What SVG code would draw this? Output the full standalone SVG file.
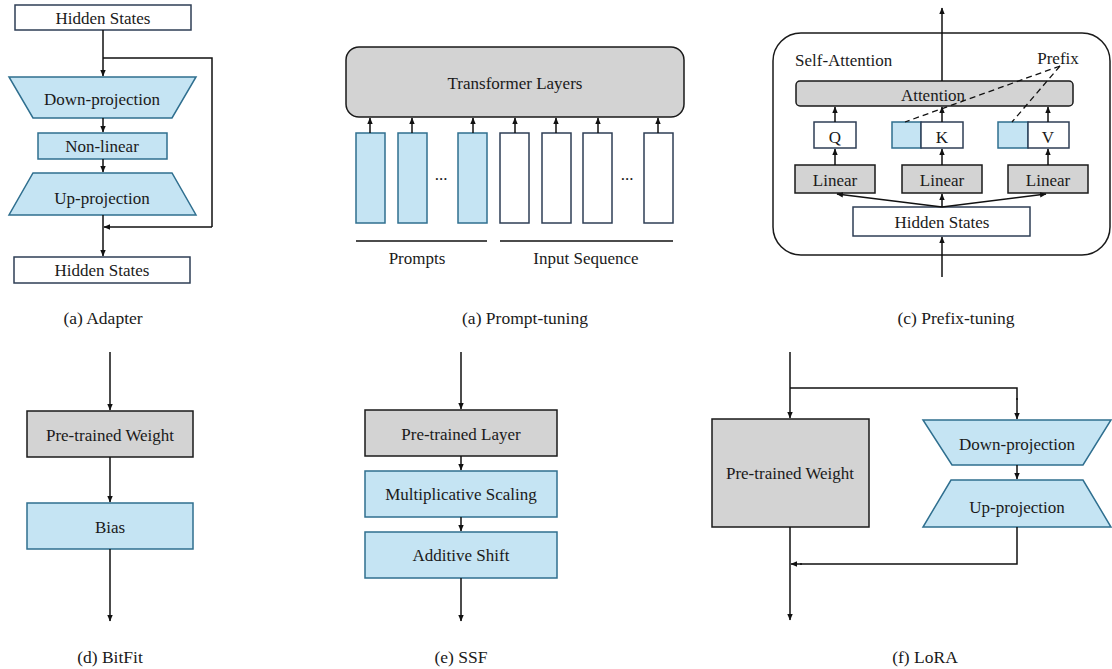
<svg xmlns="http://www.w3.org/2000/svg" width="1112" height="669" viewBox="0 0 1112 669">
<defs>
<marker id="ah" markerUnits="userSpaceOnUse" markerWidth="7" markerHeight="7" refX="6" refY="3.5" orient="auto">
<path d="M0,0.8 L6.5,3.5 L0,6.2 Z" fill="#111"/>
</marker>
<style>
text{font-family:"Liberation Serif","Times New Roman",serif;font-size:17px;fill:#1a1a1a;text-anchor:middle}
.cap{font-size:17.5px}
.lt{text-anchor:start}
.blue{fill:#c5e4f3;stroke:#2f6f8f;stroke-width:1.5}
.gray{fill:#d3d3d3;stroke:#1a1a1a;stroke-width:1.5}
.white{fill:#fff;stroke:#2e3e55;stroke-width:1.5}
.ln{fill:none;stroke:#111;stroke-width:1.5}
.arr{fill:none;stroke:#111;stroke-width:1.5;marker-end:url(#ah)}
.dash{fill:none;stroke:#111;stroke-width:1.3;stroke-dasharray:6 4}
</style>
</defs>
<rect width="1112" height="669" fill="#fff"/>

<!-- (a) Adapter -->
<g id="adapter">
<g id="a-hs-top"><rect class="white" x="15" y="5" width="176" height="25"/><text x="103" y="24">Hidden States</text></g>
<g id="a-down"><polygon class="blue" points="9,77 196,77 172,118 33,118"/><text x="102" y="105">Down-projection</text></g>
<g id="a-nonlin"><rect class="blue" x="38" y="133" width="129" height="26"/><text x="102" y="152">Non-linear</text></g>
<g id="a-up"><polygon class="blue" points="33,173 172,173 196,215 9,215"/><text x="102" y="204">Up-projection</text></g>
<g id="a-hs-bot"><rect class="white" x="14" y="257" width="176" height="26"/><text x="102" y="276">Hidden States</text></g>
<text class="cap" x="103" y="324">(a) Adapter</text>
</g>

<!-- (b) Prompt-tuning -->
<g id="prompt">
<g id="p-trans"><rect class="gray" x="346" y="47" width="338" height="70" rx="13"/><text x="515" y="89">Transformer Layers</text></g>
<g id="p-tokens">
<rect class="blue" x="356" y="133" width="29" height="90"/>
<rect class="blue" x="398" y="133" width="29" height="90"/>
<rect class="blue" x="458" y="133" width="29" height="90"/>
<rect class="white" x="500" y="133" width="29" height="90"/>
<rect class="white" x="542" y="133" width="29" height="90"/>
<rect class="white" x="583" y="133" width="29" height="90"/>
<rect class="white" x="644" y="133" width="29" height="90"/>
<text x="441" y="180">...</text>
<text x="627" y="180">...</text>
</g>
<line class="ln" x1="356" y1="241" x2="487" y2="241"/>
<line class="ln" x1="500" y1="241" x2="673" y2="241"/>
<text x="417" y="264">Prompts</text>
<text x="586" y="264">Input Sequence</text>
<text class="cap" x="525" y="324">(a) Prompt-tuning</text>
</g>

<!-- (c) Prefix-tuning -->
<g id="prefix">
<rect x="773" y="33" width="337" height="222" rx="28" fill="#fff" stroke="#1a1a1a" stroke-width="1.5"/>
<text class="lt" x="795" y="66">Self-Attention</text>
<text x="1058" y="64">Prefix</text>
<g id="c-att"><rect class="gray" x="796" y="81" width="277" height="25" rx="4"/><text x="933" y="101">Attention</text></g>
<g id="c-q"><rect class="white" x="814" y="122" width="42" height="26"/><text x="835" y="143">Q</text></g>
<g id="c-k"><rect class="blue" x="892" y="122" width="29" height="26"/><rect class="white" x="921" y="122" width="42" height="26"/><text x="942" y="143">K</text></g>
<g id="c-v"><rect class="blue" x="998" y="122" width="30" height="26"/><rect class="white" x="1028" y="122" width="41" height="26"/><text x="1048" y="143">V</text></g>
<g id="c-lin1"><rect class="gray" x="795" y="165" width="80" height="28"/><text x="835" y="186">Linear</text></g>
<g id="c-lin2"><rect class="gray" x="902" y="165" width="80" height="28"/><text x="942" y="186">Linear</text></g>
<g id="c-lin3"><rect class="gray" x="1008" y="165" width="80" height="28"/><text x="1048" y="186">Linear</text></g>
<g id="c-hs"><rect class="white" x="853" y="207" width="177" height="29"/><text x="942" y="228">Hidden States</text></g>
<text class="cap" x="956" y="324">(c) Prefix-tuning</text>
</g>

<!-- (d) BitFit -->
<g id="bitfit">
<g id="d-pw"><rect class="gray" x="27" y="411" width="166" height="46"/><text x="110" y="441">Pre-trained Weight</text></g>
<g id="d-bias"><rect class="blue" x="27" y="503" width="166" height="46"/><text x="110" y="533">Bias</text></g>
<text class="cap" x="110" y="663">(d) BitFit</text>
</g>

<!-- (e) SSF -->
<g id="ssf">
<g id="e-pl"><rect class="gray" x="365" y="410" width="192" height="46"/><text x="461" y="440">Pre-trained Layer</text></g>
<g id="e-ms"><rect class="blue" x="365" y="471" width="192" height="46"/><text x="461" y="500">Multiplicative Scaling</text></g>
<g id="e-as"><rect class="blue" x="365" y="532" width="192" height="46"/><text x="461" y="561">Additive Shift</text></g>
<text class="cap" x="461" y="663">(e) SSF</text>
</g>

<!-- (f) LoRA -->
<g id="lora">
<g id="f-pw"><rect class="gray" x="712" y="419" width="157" height="108"/><text x="790" y="479">Pre-trained Weight</text></g>
<g id="f-down"><polygon class="blue" points="923,420 1111,420 1083,465 952,465"/><text x="1017" y="450">Down-projection</text></g>
<g id="f-up"><polygon class="blue" points="951,480 1083,480 1111,527 923,527"/><text x="1017" y="513">Up-projection</text></g>
<text class="cap" x="925" y="663">(f) LoRA</text>
</g>

<!-- connectors -->
<g id="connectors">
<!-- adapter -->
<line class="arr" x1="103" y1="30" x2="103" y2="76"/>
<polyline class="ln" points="103,58 212,58 212,227"/>
<line class="arr" x1="212" y1="227" x2="104" y2="227"/>
<line class="arr" x1="103" y1="118" x2="103" y2="132"/>
<line class="arr" x1="103" y1="159" x2="103" y2="172"/>
<line class="arr" x1="103" y1="215" x2="103" y2="256"/>
<!-- prompt -->
<line class="arr" x1="370" y1="133" x2="370" y2="118"/>
<line class="arr" x1="412" y1="133" x2="412" y2="118"/>
<line class="arr" x1="473" y1="133" x2="473" y2="118"/>
<line class="arr" x1="515" y1="133" x2="515" y2="118"/>
<line class="arr" x1="556" y1="133" x2="556" y2="118"/>
<line class="arr" x1="598" y1="133" x2="598" y2="118"/>
<line class="arr" x1="658" y1="133" x2="658" y2="118"/>
<!-- prefix -->
<line class="arr" x1="942" y1="81" x2="942" y2="8"/>
<line class="arr" x1="835" y1="165" x2="835" y2="149"/>
<line class="arr" x1="835" y1="122" x2="835" y2="107"/>
<line class="arr" x1="942" y1="165" x2="942" y2="149"/>
<line class="arr" x1="942" y1="122" x2="942" y2="107"/>
<line class="arr" x1="1048" y1="165" x2="1048" y2="149"/>
<line class="arr" x1="1048" y1="122" x2="1048" y2="107"/>
<line class="arr" x1="942" y1="207" x2="942" y2="194"/>
<line class="arr" x1="942" y1="207" x2="837" y2="194"/>
<line class="arr" x1="942" y1="207" x2="1046" y2="194"/>
<line class="arr" x1="942" y1="277" x2="942" y2="237"/>
<line class="dash" x1="1060" y1="66" x2="905" y2="122"/>
<line class="dash" x1="1060" y1="66" x2="1012" y2="122"/>
<!-- bitfit -->
<line class="arr" x1="110" y1="352" x2="110" y2="410"/>
<line class="arr" x1="110" y1="457" x2="110" y2="502"/>
<line class="arr" x1="110" y1="549" x2="110" y2="621"/>
<!-- ssf -->
<line class="arr" x1="461" y1="352" x2="461" y2="409"/>
<line class="arr" x1="461" y1="456" x2="461" y2="470"/>
<line class="arr" x1="461" y1="517" x2="461" y2="531"/>
<line class="arr" x1="461" y1="578" x2="461" y2="621"/>
<!-- lora -->
<line class="arr" x1="790" y1="352" x2="790" y2="418"/>
<polyline class="ln" points="790,388 1017,388 1017,400"/>
<line class="arr" x1="1017" y1="398" x2="1017" y2="419"/>
<line class="arr" x1="1017" y1="465" x2="1017" y2="479"/>
<polyline class="ln" points="1017,527 1017,564 800,564"/>
<line class="arr" x1="802" y1="564" x2="791" y2="564"/>
<line class="arr" x1="790" y1="527" x2="790" y2="620"/>
</g>
</svg>
